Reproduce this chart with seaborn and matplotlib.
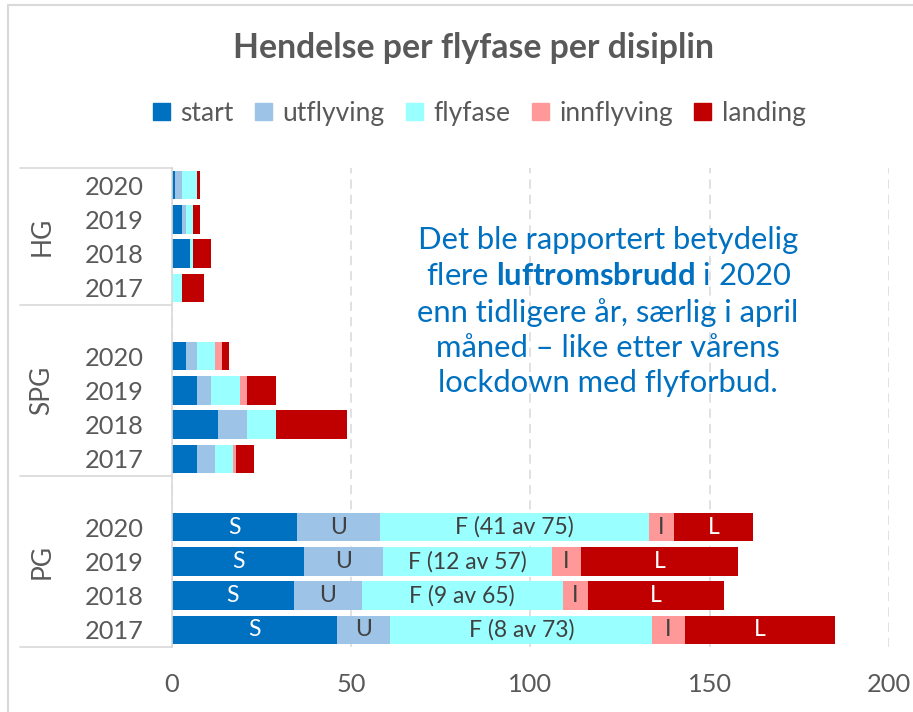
import seaborn as sns
import matplotlib.pyplot as plt
import pandas as pd
from matplotlib.patches import Patch, Rectangle

# ---------------------------------------------------------------
# Data
# ---------------------------------------------------------------
disciplines = ['HG', 'SPG', 'PG']
years = ['2020', '2019', '2018', '2017']
phases = ['start', 'utflyving', 'flyfase', 'innflyving', 'landing']
colors = ['#0070C0', '#9DC3E6', '#99FFFF', '#FF9999', '#C00000']

# one value per discipline/year, rows HG 2020..2017, SPG 2020..2017, PG 2020..2017
start      = [1, 3, 5, 0,   4, 7, 13, 7,   35, 37, 34, 46]
utflyving  = [2, 1, 0, 0,   3, 4, 8, 5,    23, 22, 19, 15]
flyfase    = [4, 2, 1, 3,   5, 8, 8, 5,    75, 47, 56, 73]
innflyving = [0, 0, 0, 0,   2, 2, 0, 1,    7, 8, 7, 9]
landing    = [1, 2, 5, 6,   2, 8, 20, 5,   22, 44, 38, 42]

# text inside the PG bars
pg_labels = [
    ['S', 'U', 'F (41 av 75)', 'I', 'L'],
    ['S', 'U', 'F (12 av 57)', 'I', 'L'],
    ['S', 'U', 'F (9 av 65)', 'I', 'L'],
    ['S', 'U', 'F (8 av 73)', 'I', 'L'],
]
label_colors = ['white', '#404040', '#404040', '#404040', 'white']

note = ("Det ble rapportert betydelig\n"
        "flere $\\mathbf{luftromsbrudd}$ i 2020\n"
        "enn tidligere år, særlig i april\n"
        "måned – like etter vårens\n"
        "lockdown med flyforbud.")

# ---------------------------------------------------------------
# Build table
# ---------------------------------------------------------------
rows = [f'{d} {y}' for d in disciplines for y in years]
df = pd.DataFrame({'rad': rows, 'start': start, 'utflyving': utflyving,
                   'flyfase': flyfase, 'innflyving': innflyving,
                   'landing': landing})
cum = df[phases].cumsum(axis=1)

# empty slot before SPG and PG
order = rows[0:4] + ['_gap1'] + rows[4:8] + ['_gap2'] + rows[8:12]

sns.set_theme(style='white')
plt.rcParams['font.family'] = ['Lato', 'DejaVu Sans']
plt.rcParams['mathtext.fontset'] = 'custom'
plt.rcParams['mathtext.rm'] = 'Lato'
plt.rcParams['mathtext.bf'] = 'Lato:bold'

grey = '#595959'
line_grey = '#D9D9D9'

fig = plt.figure(figsize=(9.13, 7.12), dpi=100)
ax = fig.add_axes([0.1881, 0.0913, 0.7856, 0.6727])

# stacked bars: draw cumulative totals from the longest down
for k in reversed(range(len(phases))):
    sns.barplot(x=cum[phases[k]], y=df['rad'], order=order, orient='h',
                color=colors[k], saturation=1, width=0.83, linewidth=0,
                errorbar=None, ax=ax)

# labels inside PG bars
for i, key in enumerate(rows[8:12]):
    r = 8 + i
    ypos = order.index(key)
    for k, ph in enumerate(phases):
        val = df.loc[r, ph]
        xc = cum.loc[r, ph] - val / 2
        ax.text(xc, ypos, pg_labels[i][k], ha='center', va='center',
                fontsize=16.5, color=label_colors[k])

# axes styling
ax.set_xlim(0, 200)
ax.set_ylim(len(order) - 0.5, -0.5)
ax.set_xticks([0, 50, 100, 150, 200])
ax.set_yticks(range(len(order)))
ax.set_yticklabels([r.split(' ')[1] if not r.startswith('_') else '' for r in order])
ax.set_xlabel('')
ax.set_ylabel('')
ax.xaxis.grid(True, linestyle=(0, (6, 4)), color=line_grey, lw=1.1)
ax.set_axisbelow(True)
for s in ['top', 'right', 'bottom']:
    ax.spines[s].set_visible(False)
ax.spines['left'].set_color(line_grey)
ax.spines['left'].set_linewidth(1.2)
ax.tick_params(axis='y', length=0, pad=20, labelsize=18.3, labelcolor=grey)
ax.tick_params(axis='x', length=0, pad=19, labelsize=18.3, labelcolor=grey)

# discipline group separators and labels
ytr = ax.get_yaxis_transform()
for yb in [-0.5, 3.5, 8.5, len(order) - 0.5]:
    ax.plot([-0.212, 0], [yb, yb], transform=ytr, color=line_grey, lw=1.2,
            clip_on=False)
for d, yc in zip(disciplines, [1.5, 6, 11]):
    ax.text(-0.181, yc, d, transform=ytr, rotation=90, ha='center',
            va='center', fontsize=19, color=grey)

# title, legend, note
fig.text(0.519, 0.932, 'Hendelse per flyfase per disiplin', ha='center',
         va='center', fontsize=24.3, fontweight='bold', color=grey)
handles = [Patch(color=c, label=p) for c, p in zip(colors, phases)]
fig.legend(handles=handles, loc='center', bbox_to_anchor=(0.525, 0.841),
           ncol=5, frameon=False, handlelength=0.65, handleheight=0.65,
           handletextpad=0.4, columnspacing=0.8, fontsize=19,
           labelcolor=grey)
fig.text(0.666, 0.562, note, ha='center', va='center',
         multialignment='center', fontsize=22.3, color='#0070C0',
         linespacing=1.32)

# chart frame
fig.add_artist(Rectangle((8 / 913, -0.1), 1.2, 1 - 5 / 712 + 0.1,
                         transform=fig.transFigure, fill=False,
                         edgecolor=line_grey, lw=1.5))

fig.savefig('out.png', dpi=100, facecolor='white')
